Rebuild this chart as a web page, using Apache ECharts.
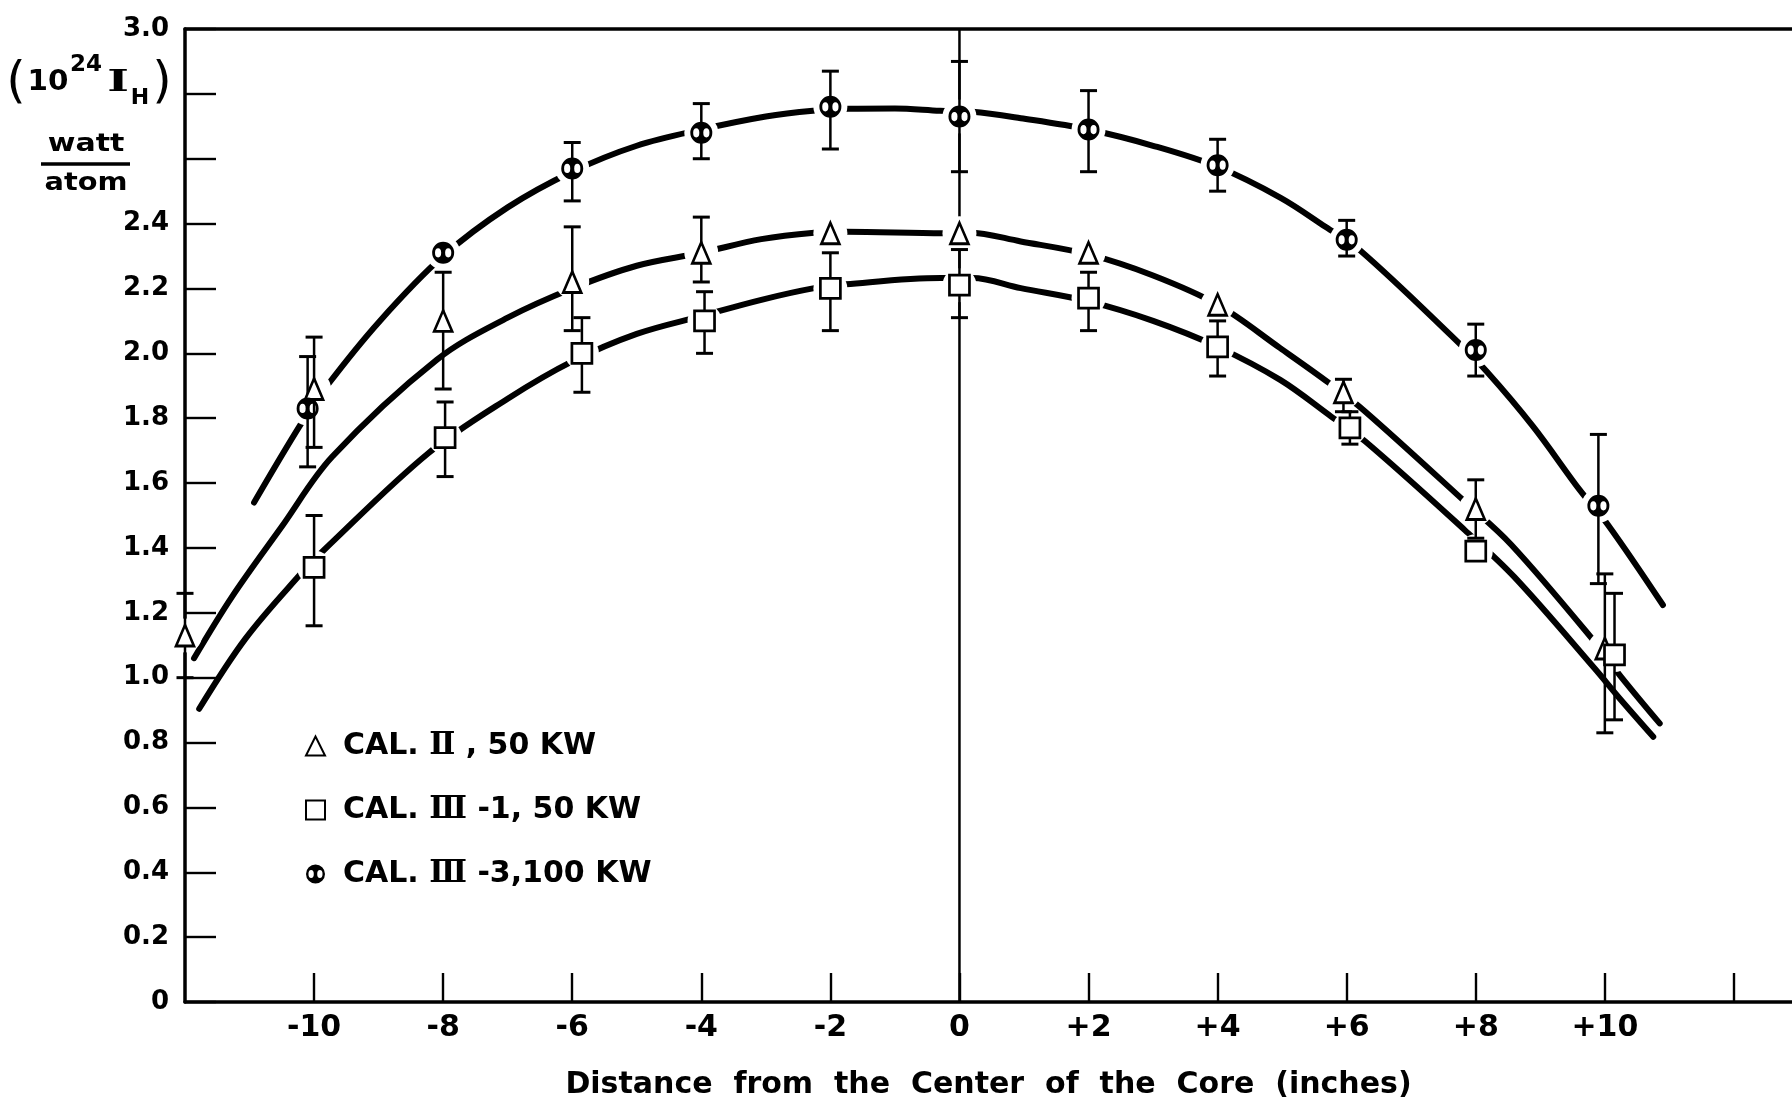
<!DOCTYPE html>
<html>
<head>
<meta charset="utf-8">
<script src="https://cdn.jsdelivr.net/npm/echarts@6/dist/echarts.min.js"></script>
<style>
  html, body { margin: 0; padding: 0; background: #fff; }
  #chart { width: 1792px; height: 1103px; }
</style>
</head>
<body>
<div id="chart"></div>
<script>
// ---- measured points: position (inches from core centre), value, error bar low/high ----
const triName = 'CAL. \u2161 , 50 KW';
const triX    = [-12, -10, -8, -6, -4, -2, 0, 2, 4, 5.95, 8, 10];
const triY    = [1.13, 1.89, 2.10, 2.22, 2.31, 2.37, 2.37, 2.31, 2.15, 1.88, 1.52, 1.09];
const triLo   = [1.00, 1.71, 1.89, 2.07, 2.22, null, null, null, null, 1.82, 1.43, 0.83];
const triHi   = [1.26, 2.05, 2.25, 2.39, 2.42, null, null, null, null, 1.92, 1.61, 1.32];

const sqName = 'CAL. \u2162 -1, 50 KW';
const sqX    = [-10, -7.97, -5.85, -3.95, -2, 0, 2, 4, 6.05, 8, 10.15];
const sqY    = [1.34, 1.74, 2.00, 2.10, 2.20, 2.21, 2.17, 2.02, 1.77, 1.39, 1.07];
const sqLo   = [1.16, 1.62, 1.88, 2.00, 2.07, 2.11, 2.07, 1.93, 1.72, null, 0.87];
const sqHi   = [1.50, 1.85, 2.11, 2.19, 2.31, 2.32, 2.25, 2.10, 1.82, null, 1.26];

const cirName = 'CAL. \u2162 -3,100 KW';
const cirX    = [-10.1, -8, -6, -4, -2, 0, 2, 4, 6, 8, 9.9];
const cirY    = [1.83, 2.31, 2.57, 2.68, 2.76, 2.73, 2.69, 2.58, 2.35, 2.01, 1.53];
const cirLo   = [1.65, null, 2.47, 2.60, 2.63, 2.56, 2.56, 2.50, 2.30, 1.93, 1.29];
const cirHi   = [1.99, null, 2.65, 2.77, 2.87, 2.90, 2.81, 2.66, 2.41, 2.09, 1.75];

// ---- hand-faired curves through each run ----
const curveCir = [[-10.93,1.54],[-10.21,1.78],[-9.80,1.90],[-8.98,2.10],[-8.0,2.30],[-7.0,2.45],
  [-6.0,2.56],[-5.0,2.64],[-4.0,2.69],[-3.0,2.73],[-2.27,2.748],[-1.72,2.754],[-1.0,2.755],
  [-0.30,2.748],[0.20,2.745],[0.95,2.725],[2.0,2.69],[3.0,2.64],[4.0,2.575],[4.97,2.48],
  [5.67,2.39],[6.21,2.317],[7.68,2.043],[8.17,1.944],[8.89,1.774],[9.61,1.579],[10.05,1.471],[10.90,1.224]];
const curveTri = [[-11.86,1.06],[-11.27,1.25],[-10.50,1.466],[-9.72,1.681],[-8.10,1.98],[-7.0,2.11],
  [-6.0,2.20],[-5.0,2.27],[-4.0,2.31],[-3.07,2.352],[-2.25,2.372],[-1.76,2.375],[-0.25,2.37],
  [0.15,2.372],[0.95,2.345],[2.0,2.305],[3.0,2.24],[4.0,2.15],[4.97,2.016],[5.73,1.908],
  [6.29,1.82],[7.83,1.543],[8.55,1.41],[9.82,1.116],[10.23,1.008],[10.85,0.859]];
const curveSq = [[-11.78,0.904],[-11.06,1.121],[-10.22,1.317],[-9.85,1.393],[-8.23,1.692],[-7.0,1.86],
  [-6.0,1.975],[-5.0,2.06],[-4.0,2.115],[-3.07,2.165],[-2.25,2.201],[-1.76,2.213],[-0.29,2.232],
  [0.20,2.232],[0.95,2.201],[2.0,2.16],[3.0,2.10],[4.0,2.02],[4.97,1.918],[5.76,1.805],
  [6.29,1.728],[7.83,1.455],[8.6,1.31],[9.84,1.029],[10.23,0.936],[10.75,0.818]];

// ---- axis ticks ----
const xTickValues  = [-10, -8, -6, -4, -2, 0, 2, 4, 6, 8, 10, 12];
const xLabelValues = [-10, -8, -6, -4, -2, 0, 2, 4, 6, 8, 10];
const yHiddenLabels = [2.6, 2.8];

const FONT = '"DejaVu Sans", "Noto Sans", sans-serif';
const SERIF = '"DejaVu Serif", "Liberation Serif", serif';
const INK = '#000';

// circle with an X through it: black disc with two white side wedges
const crossedCircle = 'path://M0,-10A10,10 0 1,1 0,10A10,10 0 1,1 0,-10Z' +
  'M-4.6,-4.2A2.8,4.2 0 1,0 -4.6,4.2A2.8,4.2 0 1,0 -4.6,-4.2Z' +
  'M4.6,-4.2A2.8,4.2 0 1,0 4.6,4.2A2.8,4.2 0 1,0 4.6,-4.2Z';

const pts = (xs, ys) => xs.map((x, i) => [x, ys[i]]);
const bars = (xs, lo, hi) => xs.map((x, i) => [x, lo[i], hi[i]]).filter(d => d[1] != null);

function renderErrorBar(params, api) {
  const x = api.value(0);
  const pLo = api.coord([x, api.value(1)]);
  const pHi = api.coord([x, api.value(2)]);
  const cap = 8.5;
  const stem = { stroke: INK, lineWidth: 2.5 };
  const capStyle = { stroke: INK, lineWidth: 3 };
  return {
    type: 'group',
    children: [
      { type: 'line', shape: { x1: pLo[0], y1: pLo[1], x2: pHi[0], y2: pHi[1] }, style: stem },
      { type: 'line', shape: { x1: pLo[0] - cap, y1: pLo[1], x2: pLo[0] + cap, y2: pLo[1] }, style: capStyle },
      { type: 'line', shape: { x1: pHi[0] - cap, y1: pHi[1], x2: pHi[0] + cap, y2: pHi[1] }, style: capStyle }
    ]
  };
}

// white clearance disc behind a plotted point, so curves stop short of it
function renderClearance(params, api) {
  const p = api.coord([api.value(0), api.value(1)]);
  return { type: 'circle', shape: { cx: p[0], cy: p[1], r: 17 }, style: { fill: '#fff' } };
}

function errorSeries(data) {
  return { type: 'custom', renderItem: renderErrorBar, data: data, z: 11, silent: true,
           encode: { x: 0, y: [1, 2] } };
}
function curveSeries(data) {
  return { type: 'line', data: data, smooth: 0.35, symbol: 'none', z: 2, silent: true,
           lineStyle: { color: INK, width: 6, cap: 'round' } };
}

const allMarks = pts(triX, triY).concat(pts(sqX, sqY), pts(cirX, cirY));

const chart = echarts.init(document.getElementById('chart'), null, { renderer: 'canvas' });

chart.setOption({
  backgroundColor: '#fff',
  animation: false,
  grid: { left: 185, right: 0, top: 29, bottom: 101, outerBoundsMode: 'none', containLabel: false },
  xAxis: [{
    type: 'value', min: -12, max: 12.9, interval: 2,
    axisLine: { onZero: false, lineStyle: { color: INK, width: 3.5 } },
    axisTick: { inside: true, length: 29, lineStyle: { color: INK, width: 2.4 }, customValues: xTickValues },
    axisLabel: { margin: 11, color: INK, fontFamily: FONT, fontWeight: 'bold', fontSize: 30,
                 customValues: xLabelValues,
                 formatter: v => (v > 0 ? '+' + v : String(v)) },
    splitLine: { show: false },
    name: 'Distance  from  the  Center  of  the  Core  (inches)',
    nameLocation: 'middle', nameGap: 68,
    nameTextStyle: { color: INK, fontFamily: FONT, fontWeight: 'bold', fontSize: 30 }
  }, {
    type: 'value', position: 'top', min: -12, max: 12.9,
    axisLine: { show: true, onZero: false, lineStyle: { color: INK, width: 3.5 } },
    axisTick: { show: false }, axisLabel: { show: false }, splitLine: { show: false }
  }],
  yAxis: {
    type: 'value', min: 0, max: 3, interval: 0.2,
    axisLine: { onZero: false, lineStyle: { color: INK, width: 3.5 } },
    axisTick: { inside: true, length: 31, lineStyle: { color: INK, width: 2.4 } },
    axisLabel: {
      margin: 16, color: INK, fontFamily: FONT, fontWeight: 'bold', fontSize: 26,
      formatter: v => {
        const r = Math.round(v * 10) / 10;
        if (yHiddenLabels.indexOf(r) >= 0) return '';
        return r === 0 ? '0' : r.toFixed(1);
      }
    },
    splitLine: { show: false }
  },
  legend: {
    orient: 'vertical', left: 300, top: 724, itemGap: 30,
    itemWidth: 19, itemHeight: 19,
    textStyle: {
      color: INK, fontFamily: FONT, fontWeight: 'bold', fontSize: 30, lineHeight: 34,
      padding: [0, 0, 0, 13],
      rich: { r: { fontFamily: SERIF, fontWeight: 'bold', fontSize: 31, lineHeight: 34 } }
    },
    formatter: name => name.replace(/([\u2161\u2162])/, '{r|$1}'),
    data: [triName, sqName, cirName],
    selectedMode: false
  },
  graphic: [
    { type: 'text', x: 16, y: 84, style: { text: '(', fontFamily: FONT, fontSize: 50, fill: INK, align: 'center', verticalAlign: 'middle' } },
    { type: 'text', x: 48, y: 83, scaleX: 1.05, style: { text: '10', fontFamily: FONT, fontWeight: 'bold', fontSize: 28, fill: INK, align: 'center', verticalAlign: 'middle' } },
    { type: 'text', x: 86, y: 65, style: { text: '24', fontFamily: FONT, fontWeight: 'bold', fontSize: 23, fill: INK, align: 'center', verticalAlign: 'middle' } },
    { type: 'text', x: 118, y: 83, scaleX: 1.6, style: { text: 'I', fontFamily: SERIF, fontWeight: 'bold', fontSize: 29, fill: INK, align: 'center', verticalAlign: 'middle' } },
    { type: 'text', x: 140, y: 98, style: { text: 'H', fontFamily: FONT, fontWeight: 'bold', fontSize: 22, fill: INK, align: 'center', verticalAlign: 'middle' } },
    { type: 'text', x: 162, y: 84, style: { text: ')', fontFamily: FONT, fontSize: 50, fill: INK, align: 'center', verticalAlign: 'middle' } },
    { type: 'text', x: 86, y: 145, scaleX: 1.25, style: { text: 'watt', fontFamily: FONT, fontWeight: 'bold', fontSize: 24, fill: INK, align: 'center', verticalAlign: 'middle' } },
    { type: 'line', shape: { x1: 41, y1: 164, x2: 130, y2: 164 }, style: { stroke: INK, lineWidth: 3.5 } },
    { type: 'text', x: 86, y: 184, scaleX: 1.2, style: { text: 'atom', fontFamily: FONT, fontWeight: 'bold', fontSize: 24, fill: INK, align: 'center', verticalAlign: 'middle' } }
  ],
  series: [
    // vertical reference line through the core centre
    { type: 'line', data: [[0, 0], [0, 3]], symbol: 'none', z: 1, silent: true,
      lineStyle: { color: INK, width: 2.5 } },
    curveSeries(curveCir),
    curveSeries(curveTri),
    curveSeries(curveSq),
    { type: 'custom', renderItem: renderClearance, data: allMarks, z: 10, silent: true,
      encode: { x: 0, y: 1 } },
    errorSeries(bars(triX, triLo, triHi)),
    errorSeries(bars(sqX, sqLo, sqHi)),
    errorSeries(bars(cirX, cirLo, cirHi)),
    { name: triName, type: 'scatter', data: pts(triX, triY), symbol: 'triangle', symbolSize: [18, 21], z: 12,
      itemStyle: { color: '#fff', borderColor: INK, borderWidth: 2.7, opacity: 1 } },
    { name: sqName, type: 'scatter', data: pts(sqX, sqY), symbol: 'rect', symbolSize: 20, z: 12,
      itemStyle: { color: '#fff', borderColor: INK, borderWidth: 2.7, opacity: 1 } },
    { name: cirName, type: 'scatter', data: pts(cirX, cirY), symbol: crossedCircle, symbolSize: 22, z: 12,
      itemStyle: { color: INK, borderWidth: 0, opacity: 1 } }
  ]
});
</script>
</body>
</html>
